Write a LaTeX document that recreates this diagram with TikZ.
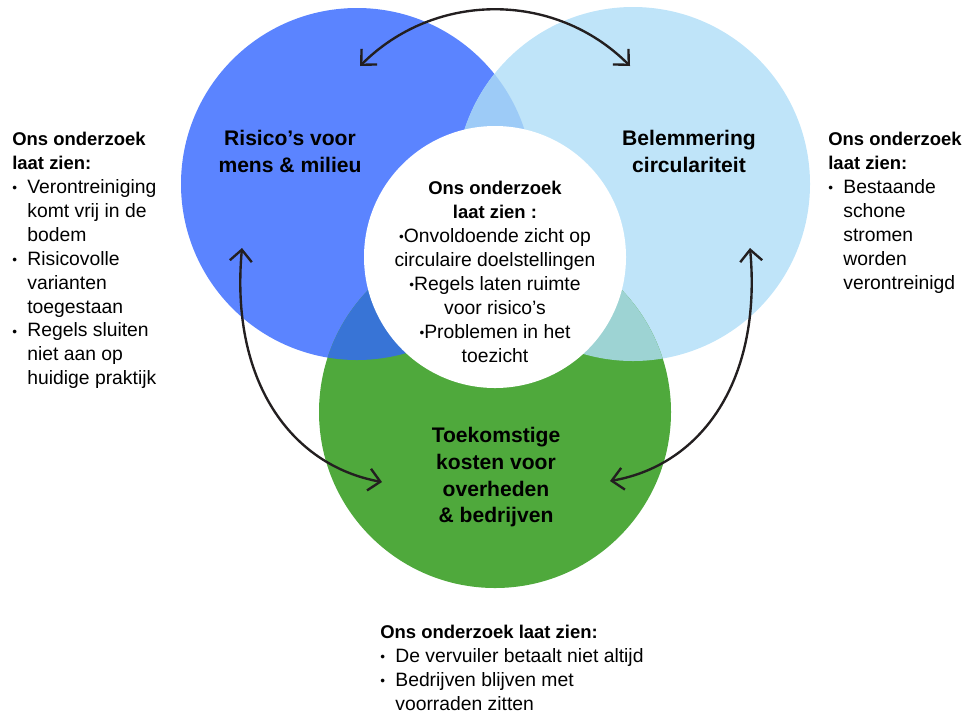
\documentclass[tikz,border=0pt]{standalone}
\usepackage{fontspec}
\setmainfont{Liberation Sans}
\usetikzlibrary{arrows.meta}

\definecolor{riskblue}{RGB}{91,132,255}
\definecolor{circblue}{RGB}{191,228,249}
\definecolor{costgreen}{RGB}{79,169,60}
\definecolor{riskcirc}{RGB}{157,203,247}
\definecolor{riskcost}{RGB}{56,116,214}
\definecolor{circcost}{RGB}{157,211,211}
\definecolor{arrowdark}{RGB}{35,31,32}

\tikzset{
	blobtext/.style={font=\bfseries\fontsize{12}{15.2}\selectfont, align=center, inner sep=0pt, anchor=north},
	sidetext/.style={font=\fontsize{11}{13.6}\selectfont, align=left, inner sep=0pt, anchor=north west},
	midtext/.style={font=\fontsize{11}{13.6}\selectfont, align=center, inner sep=0pt, anchor=north},
	twoway/.style={{Straight Barb[length=2.3mm,width=4.4mm]}-{Straight Barb[length=2.3mm,width=4.4mm]}, line width=1.35pt, draw=arrowdark}
}
\newcommand{\pdot}{\raisebox{0.08ex}{\scalebox{0.7}{•}}}
\newcommand{\bul}{\makebox[3mm][l]{\pdot}}
\newcommand{\ind}{\hspace*{3mm}}
\newcommand{\hd}[1]{{\bfseries\fontsize{10.5}{13.6}\selectfont #1}}

\begin{document}
\begin{tikzpicture}[x=0.2mm,y=-0.2mm]
		\useasboundingbox (0,0) rectangle (963,712);
		
		%circles
		\fill[riskblue] (357,184) circle[radius=176];
		\fill[circblue] (633,184) circle[radius=177];
		\fill[costgreen] (495,412) circle[radius=176];
		
		%overlaps
		\begin{scope}
			\clip (357,184) circle[radius=176];
			\fill[riskcirc] (633,184) circle[radius=177];
			\fill[riskcost] (495,412) circle[radius=176];
		\end{scope}
		\begin{scope}
			\clip (633,184) circle[radius=177];
			\fill[circcost] (495,412) circle[radius=176];
		\end{scope}
		
		%centre
		\fill[white] (495,257) circle[radius=131];
		
		%labels
		\node[blobtext] (risklabel) at (290,130) {Risico’s voor\\mens \& milieu};
		\node[blobtext] (circlabel) at (689,130) {Belemmering\\circulariteit};
		\node[blobtext] (costlabel) at (496,427) {Toekomstige\\kosten voor\\overheden\\\& bedrijven};
		
		\node[midtext] (midnote) at (495,181) {\hd{Ons onderzoek}\\\hd{laat zien :}\\\pdot Onvoldoende zicht op\\circulaire doelstellingen\\\pdot Regels laten ruimte\\voor risico’s\\\pdot Problemen in het\\toezicht};
		
		%notes
		\node[sidetext] (leftnote) at (12,132) {\hd{Ons onderzoek}\\\hd{laat zien:}\\\bul Verontreiniging\\\ind komt vrij in de\\\ind bodem\\\bul Risicovolle\\\ind varianten\\\ind toegestaan\\\bul Regels sluiten\\\ind niet aan op\\\ind huidige praktijk};
		\node[sidetext] (rightnote) at (828,132) {\hd{Ons onderzoek}\\\hd{laat zien:}\\\bul Bestaande\\\ind schone\\\ind stromen\\\ind worden\\\ind verontreinigd};
		\node[sidetext] (bottomnote) at (380,625) {\hd{Ons onderzoek laat zien:}\\\bul De vervuiler betaalt niet altijd\\\bul Bedrijven blijven met\\\ind voorraden zitten};
		
		%arrows
		\coordinate (riskTop) at (360,66);
		\coordinate (circTop) at (630,66);
		\coordinate (riskLow) at (242,248);
		\coordinate (circLow) at (750,248);
		\coordinate (costLeft) at (382,482);
		\coordinate (costRight) at (610,481);
		
		\draw[twoway] (riskTop) .. controls (435,-9) and (555,-9) .. (circTop);
		\draw[twoway] (riskLow) .. controls (230,380) and (290,465) .. (costLeft);
		\draw[twoway] (circLow) .. controls (762,380) and (702,465) .. (costRight);
		
\end{tikzpicture}
\end{document}
